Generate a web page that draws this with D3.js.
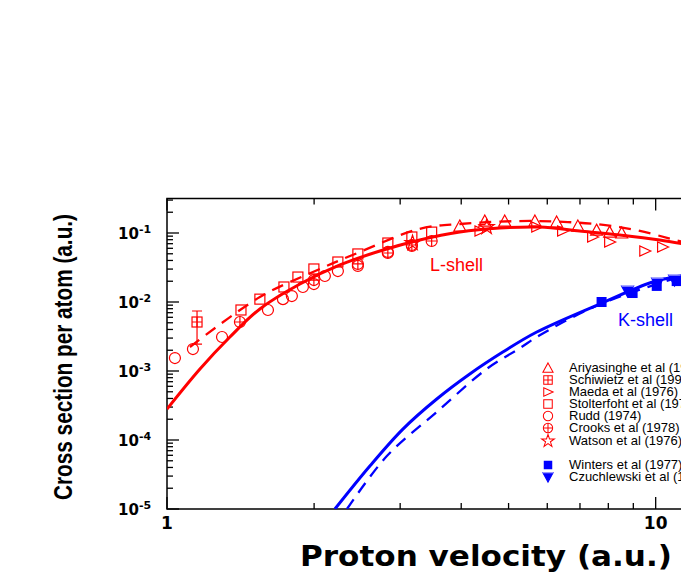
<!DOCTYPE html>
<html><head><meta charset="utf-8">
<script src="https://cdn.jsdelivr.net/npm/d3@7"></script>
<style>body{margin:0;background:#fff}svg{display:block}</style>
</head><body>
<svg id="c" width="681" height="581"></svg>
<script>
// ---- data ----
const lSolid = [[1,2.81e-4],[1.168,1.07e-3],[1.345,3.11e-3],[1.549,7.93e-3],[1.871,0.0182],[2.259,0.0344],[2.727,0.0548],[3.29,0.0792],[3.974,0.1033],[4.797,0.118],[5.79,0.122],[6.99,0.107],[8.44,0.0936],[10.19,0.0792],[12.3,0.0627]];
const lDashed = [[1.114,2.23e-3],[1.549,0.0118],[1.989,0.0272],[2.48,0.053],[3.29,0.115],[3.974,0.135],[5.79,0.149],[8.44,0.122],[11.2,0.0765],[12.3,0.065]];
const kSolid = [[2.206,1e-5],[2.601,4.2e-5],[3.039,1.44e-4],[3.565,3.93e-4],[4.165,9.05e-4],[4.866,1.88e-3],[5.71,3.67e-3],[7.68,9.35e-3],[9.86,0.0195],[11.2,0.0238],[12.3,0.028]];
const kDashed = [[2.335,1e-5],[2.818,5.86e-5],[3.565,2.55e-4],[4.51,1.07e-3],[5.27,2.14e-3],[5.79,3.3e-3],[7.68,9.2e-3],[11.2,0.023],[12.3,0.027]];
const ariyasinghe = [[3.974,0.126],[4.47,0.149],[4.91,0.149],[5.66,0.149],[6.27,0.144],[6.93,0.126],[7.57,0.110],[8.05,0.103],[8.52,0.100]];
const schiwietz = [[1.152,5.13e-3,2.46e-3,7.4e-3]];
const maeda = [[4.37,0.107],[5.71,0.122],[6.45,0.107],[7.43,0.0875],[8.05,0.074],[9.50,0.0548],[10.33,0.0627]];
const stolterfoht = [[1.417,7.66e-3],[1.549,0.0110],[1.735,0.0165],[1.853,0.0230],[1.998,0.0301],[2.237,0.0380],[2.458,0.0497],[2.831,0.0716],[3.17,0.0875],[3.48,0.103]];
const rudd = [[1.038,1.54e-3],[1.130,2.08e-3],[1.296,3.11e-3],[1.609,7.66e-3],[1.727,0.0110],[1.801,0.0122],[1.897,0.0165],[1.998,0.0182],[2.104,0.0238],[2.237,0.0281],[2.458,0.0333],[2.831,0.0531],[3.17,0.0649]];
const crooks = [[1.410,5.13e-3],[1.998,0.0208],[2.458,0.0356],[2.831,0.0513],[3.17,0.067],[3.48,0.0766]];
const watson = [[3.18,0.0716],[4.51,0.122]];
const winters = [[7.75,0.0100],[8.97,0.0135],[10.05,0.0171],[11.04,0.0201]];
const czuchlewski = [[8.76,0.0144],[10.09,0.0188],[10.93,0.0208]];
const legendLabels = ["Ariyasinghe et al (1993)","Schiwietz et al (1990)","Maeda et al (1976)","Stolterfoht  et al (1974)","Rudd (1974)","Crooks et al (1978)","Watson et al (1976)","Winters et al (1977)","Czuchlewski et al (1973)"];
const xTickLabels = ["1","10"];
const yTickExps = ["-5","-4","-3","-2","-1"];

// ---- chart ----
const svg = d3.select("#c");
const L=167, R=900, T=198.5, B=509;
const x = d3.scaleLog().domain([1,31.62]).range([L,R]);
const y = d3.scaleLog().domain([1e-5,Math.pow(10,-0.5)]).range([B,T]);
const RED="#ff0000", BLUE="#0000ff";
const F="Liberation Sans, Arial";

svg.append("rect").attr("x",L).attr("y",T).attr("width",R-L).attr("height",B-T).attr("fill","none").attr("stroke","#000").attr("stroke-width",1.5);

const g=svg.append("g").attr("stroke","#000").attr("stroke-width",1.3);
for(let d=0; d<2; d++){ for(let m=1;m<=9;m++){ const v=m*Math.pow(10,d); const len=m===1?12:6; const px=x(v);
  g.append("line").attr("x1",px).attr("x2",px).attr("y1",B).attr("y2",B-len);
  g.append("line").attr("x1",px).attr("x2",px).attr("y1",T).attr("y2",T+len);}}
for(let e=-5;e<=-1;e++){ for(let m=1;m<=9;m++){ const v=m*Math.pow(10,e); if(v>Math.pow(10,-0.5)) continue; const len=m===1?12:6; const py=y(v);
  g.append("line").attr("x1",L).attr("x2",L+len).attr("y1",py).attr("y2",py);}}

xTickLabels.forEach(t=>{svg.append("text").attr("x",x(+t)).attr("y",529).attr("text-anchor","middle")
  .attr("font-family","DejaVu Sans").attr("font-weight","bold").attr("font-size",17).text(t);});
yTickExps.forEach(e=>{const py=y(Math.pow(10,+e));
  const t=svg.append("text").attr("x",118).attr("y",py+6).attr("font-family","DejaVu Sans").attr("font-weight","bold").attr("font-size",15);
  t.append("tspan").text("10"); t.append("tspan").attr("dy",-6).attr("font-size",11).text(e);});

svg.append("text").attr("x",300).attr("y",566).attr("font-family","DejaVu Sans")
  .attr("font-weight","bold").attr("font-size",28).attr("textLength",372).attr("lengthAdjust","spacingAndGlyphs").text("Proton velocity (a.u.)");
svg.append("text").attr("transform","translate(72,500) rotate(-90)").attr("font-family",F)
  .attr("font-weight","bold").attr("font-size",25).attr("textLength",286).attr("lengthAdjust","spacingAndGlyphs").text("Cross section per atom (a.u.)");

const plot=svg.append("g");
svg.append("defs").append("clipPath").attr("id","cp").append("rect").attr("x",L).attr("y",T).attr("width",R-L).attr("height",B-T);
plot.attr("clip-path","url(#cp)");
const line=d3.line().x(d=>x(d[0])).y(d=>y(d[1])).curve(d3.curveCatmullRom);
const curve=(data,col,dash,w)=>plot.append("path").attr("d",line(data)).attr("fill","none").attr("stroke",col).attr("stroke-width",w).attr("stroke-dasharray",dash);
curve(lSolid,RED,null,3); curve(lDashed,RED,"12,8",2.3); curve(kSolid,BLUE,null,3); curve(kDashed,BLUE,"12,8",2.3);

const s=5;
const shapes={
 triUp:(g,c)=>g.append("path").attr("d",`M0,${-s-1}L${s+1},${s}L${-s-1},${s}Z`).attr("fill","none").attr("stroke",c),
 sqPlus:(g,c)=>{g.append("rect").attr("x",-s).attr("y",-s).attr("width",2*s).attr("height",2*s).attr("fill","none").attr("stroke",c);
   g.append("path").attr("d",`M${-s},0H${s}M0,${-s}V${s}`).attr("stroke",c);},
 triRight:(g,c)=>g.append("path").attr("d",`M${s+1},0L${-s},${-s}L${-s},${s}Z`).attr("fill","none").attr("stroke",c),
 sq:(g,c)=>g.append("rect").attr("x",-s).attr("y",-s).attr("width",2*s).attr("height",2*s).attr("fill","none").attr("stroke",c),
 circ:(g,c)=>g.append("circle").attr("r",s+0.5).attr("fill","none").attr("stroke",c),
 circPlus:(g,c)=>{g.append("circle").attr("r",s+0.5).attr("fill","none").attr("stroke",c);
   g.append("path").attr("d",`M${-s-0.5},0H${s+0.5}M0,${-s-0.5}V${s+0.5}`).attr("stroke",c);},
 star:(g,c)=>g.append("path").attr("d",d3.symbol(d3.symbolStar,70)()).attr("fill","none").attr("stroke",c),
 fsq:(g,c)=>g.append("rect").attr("x",-s).attr("y",-s).attr("width",2*s).attr("height",2*s).attr("fill",c),
 triDown:(g,c)=>{g.append("path").attr("d",`M${-s-1},${-s}L${s+1},${-s}L0,${s+1}Z`).attr("fill",c).attr("stroke",c);
   g.append("path").attr("d",`M${-s-1},${-s}L${s+1},${-s}`).attr("stroke","#fff").attr("stroke-width",0.8);}
};
const drawPts=(data,shape,col)=>data.forEach(d=>{const gg=plot.append("g").attr("transform",`translate(${x(d[0])},${y(d[1])})`).attr("stroke-width",1.2);shapes[shape](gg,col);});
schiwietz.forEach(d=>{const px=x(d[0]);plot.append("path").attr("d",`M${px},${y(d[2])}V${y(d[3])}M${px-5},${y(d[3])}H${px+5}M${px-5},${y(d[2])}H${px+5}`).attr("stroke",RED).attr("stroke-width",1.2);});
drawPts(ariyasinghe,"triUp",RED); drawPts(schiwietz,"sqPlus",RED); drawPts(maeda,"triRight",RED);
drawPts(stolterfoht,"sq",RED); drawPts(rudd,"circ",RED); drawPts(crooks,"circPlus",RED); drawPts(watson,"star",RED);
drawPts(winters,"fsq",BLUE); drawPts(czuchlewski,"triDown",BLUE);

svg.append("text").attr("x",430).attr("y",271).attr("fill",RED).attr("font-family",F).attr("font-size",18).text("L-shell");
svg.append("text").attr("x",618).attr("y",326).attr("fill",BLUE).attr("font-family",F).attr("font-size",18).text("K-shell");

const legShapes=["triUp","sqPlus","triRight","sq","circ","circPlus","star","fsq","triDown"];
const legY=[368,380,392,404,416,428,441,465,477];
legendLabels.forEach((t,i)=>{const col=i<7?RED:BLUE;
  const gg=svg.append("g").attr("transform",`translate(548,${legY[i]}) scale(0.85)`).attr("stroke-width",1.2); shapes[legShapes[i]](gg,col);
  svg.append("text").attr("x",569).attr("y",legY[i]+4).attr("font-family",F).attr("font-size",13).text(t);});
</script>
</body></html>
